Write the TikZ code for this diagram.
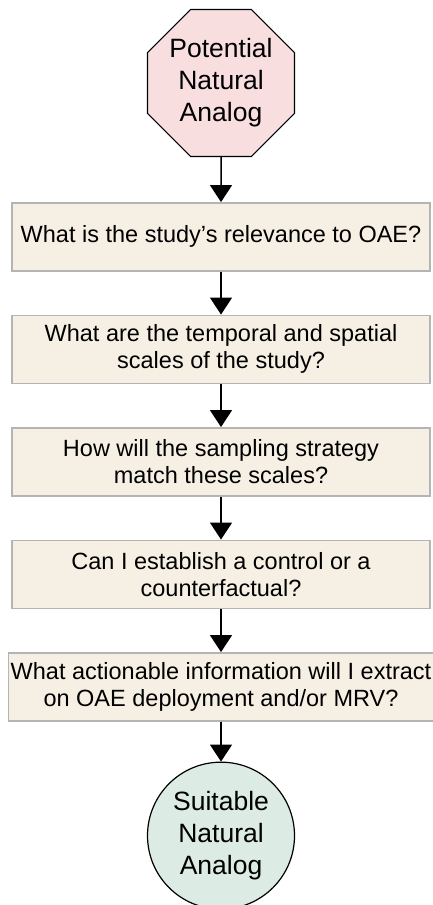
\documentclass[tikz,border=0pt]{standalone}
\usepackage{fontspec}
\setmainfont{Liberation Sans}
\usetikzlibrary{arrows.meta, positioning, shapes.geometric}
\definecolor{stoppink}{HTML}{F8DEDF}
\definecolor{askbeige}{HTML}{F6F0E4}
\definecolor{askgray}{HTML}{B4B4B4}
\definecolor{donegreen}{HTML}{DCEBE3}
\tikzstyle{every picture} = [node distance=43pt]
\tikzstyle{question} = [rectangle, draw=askgray, line width=1.5pt, fill=askbeige, minimum width=418pt, inner xsep=2pt, minimum height=68pt, align=center, font=\fontsize{23.5pt}{27pt}\selectfont]
\tikzstyle{terminal} = [draw, line width=1.2pt, inner sep=0pt, align=center, font=\fontsize{26.5pt}{32pt}\selectfont]
\tikzstyle{flow} = [-{Triangle[width=22pt,length=17pt]}, line width=1.5pt]

\begin{document}
\begin{tikzpicture}
			\useasboundingbox (0pt,0pt) rectangle (432pt,-905pt);
			\node (start) [terminal, regular polygon, regular polygon sides=8, minimum size=159pt, fill=stoppink] at (221pt,-83pt) {Potential\\Natural\\Analog};
			\node (q 1) [question, below=45pt of start] {What is the study’s relevance to OAE?};
			\node (q 2) [question, below=of q 1] {What are the temporal and spatial\\scales of the study?};
			\node (q 3) [question, below=of q 2] {How will the sampling strategy\\match these scales?};
			\node (q 4) [question, below=of q 3] {Can I establish a control or a\\counterfactual?};
			\node (q 5) [question, minimum width=423pt, below=of q 4] {What actionable information will I extract\\on OAE deployment and/or MRV?};
			\node (end) [terminal, circle, minimum size=147pt, fill=donegreen, below=40pt of q 5] {Suitable\\Natural\\Analog};
			\path (start) edge[flow] (q 1);
			\path (q 1) edge[flow] (q 2);
			\path (q 2) edge[flow] (q 3);
			\path (q 3) edge[flow] (q 4);
			\path (q 4) edge[flow] (q 5);
			\path (q 5) edge[flow] (end);
		\end{tikzpicture}
\end{document}
